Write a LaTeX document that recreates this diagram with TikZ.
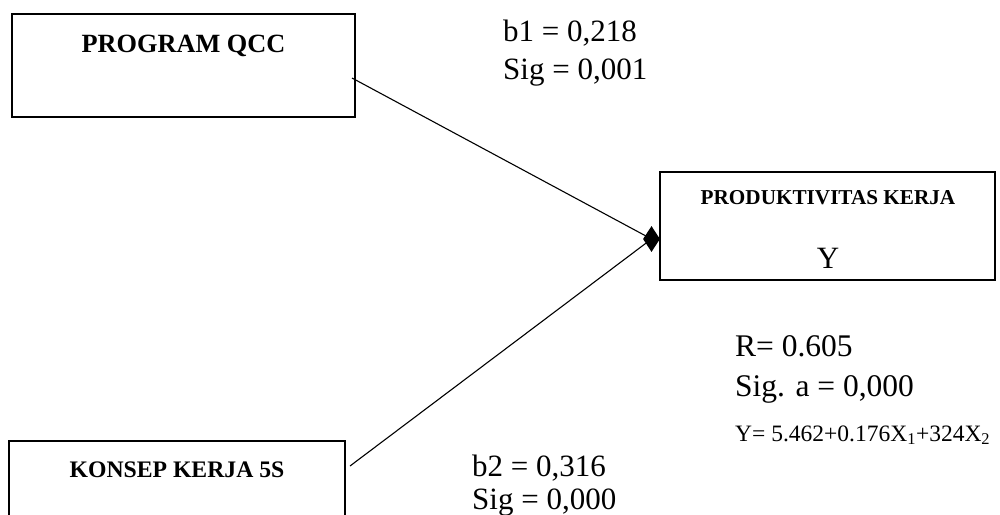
\documentclass[tikz,border=0pt]{standalone}
\usepackage{fontspec}
\setmainfont{Liberation Serif}
\usetikzlibrary{shapes.geometric,calc}
\tikzset{
  box/.style={draw, line width=2pt, inner sep=0pt},
  conn/.style={draw, line width=1.1pt},
  lbl/.style={inner sep=0pt, anchor=base west},
  ttl/.style={inner sep=0pt, anchor=base, font=\bfseries},
}
\newcommand{\fsz}[1]{\fontsize{#1}{#1}\selectfont}
\begin{document}
\begin{tikzpicture}[x=1pt,y=-1pt]
\clip (0,0) rectangle (1000,514);
\useasboundingbox (0,0) rectangle (1000,514);
% boxes
\node[box, minimum width=343pt, minimum height=103pt] (qcc) at (183.5,65.5) {};
\node[box, minimum width=335pt, minimum height=108pt] (prod) at (827.5,226) {};
\node[box, minimum width=336pt, minimum height=119pt] (k5s) at (177,500.5) {};
% box titles
\node[ttl] (tqcc) at (183.5,52) {\fsz{26.3}PROGRAM QCC};
\node[ttl] (tprod) at (828,204) {\fsz{21.2}PRODUKTIVITAS KERJA};
\node[inner sep=0pt, anchor=base] (ty) at (828,268) {\fsz{31}Y};
\node[ttl] (tk5s) at (177,477) {\fsz{23.7}KONSEP KERJA 5S};
% tip
\node[diamond, fill=black, minimum width=17pt, minimum height=26pt, inner sep=0pt] (tip) at (651.5,239) {};
% connectors
\coordinate (s1) at (352,78);
\coordinate (s2) at (350,466);
\draw[conn] (s1) -- (tip.center);
\draw[conn] (s2) -- (tip.center);
% statistics
\node[lbl] (b1) at (503,41) {\fsz{31}b1 = 0,218};
\node[lbl] (sig1) at (503,79) {\fsz{31}Sig = 0,001};
\node[lbl] (r) at (735,356) {\fsz{31.5}R= 0.605};
\node[lbl] (siga) at (735,396) {\fsz{31.5}Sig. a = 0,000};
\node[lbl] (eq) at (735,441) {\fsz{23.5}Y= 5.462+0.176X\textsubscript{1}+324X\textsubscript{2}};
\node[lbl] (b2) at (472,476) {\fsz{31}b2 = 0,316};
\node[lbl] (sig2) at (472,509) {\fsz{31}Sig = 0,000};
\end{tikzpicture}
\end{document}
